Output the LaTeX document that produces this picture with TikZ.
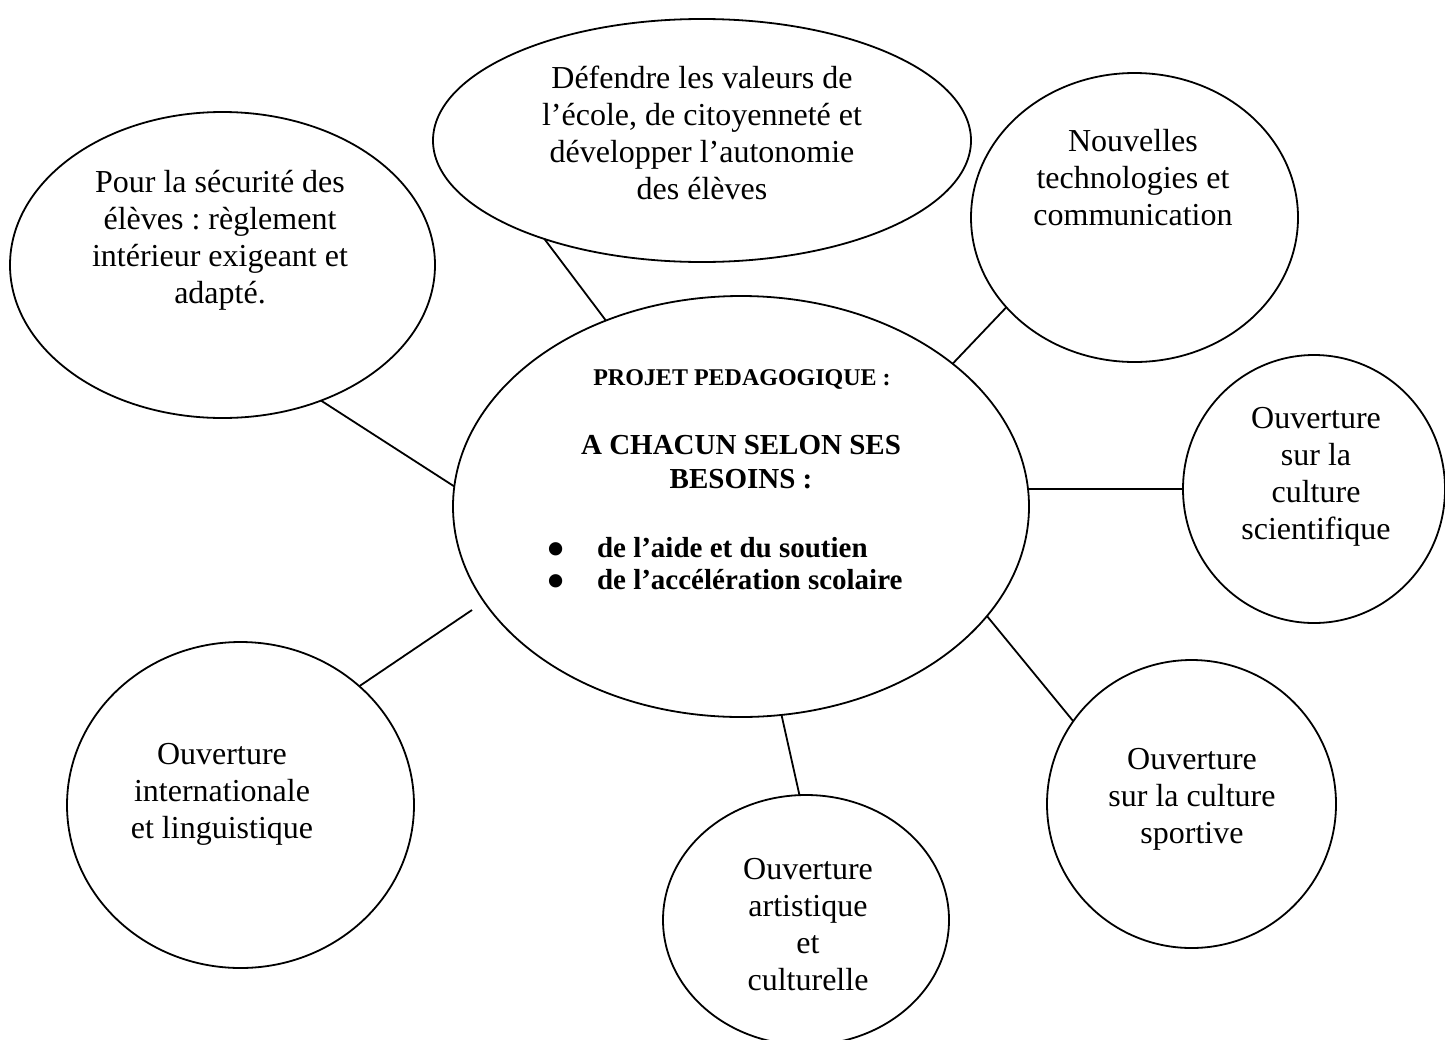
\documentclass[tikz,border=0pt]{standalone}
\usepackage{fontspec}
\setmainfont{Liberation Serif}
\usetikzlibrary{shapes.geometric}
\frenchspacing
\begin{document}
\begin{tikzpicture}[x=1pt,y=-1pt,
  bub/.style={draw, ellipse, inner sep=0pt, outer sep=0pt, line width=1.8pt},
  link/.style={line width=1.8pt},
  lbl/.style={anchor=north, inner sep=0pt, outer sep=0pt, align=center, font=\fontsize{32}{36.8}\selectfont\frenchspacing},
  ctitle/.style={anchor=base, inner sep=0pt, outer sep=0pt, font=\fontsize{24}{27.6}\selectfont\bfseries},
  chead/.style={anchor=north, inner sep=0pt, outer sep=0pt, align=center, font=\fontsize{29}{33.4}\selectfont\bfseries},
  clist/.style={anchor=north west, inner sep=0pt, outer sep=0pt, align=left, font=\fontsize{29}{32}\selectfont\bfseries}]
\path[use as bounding box] (0,0) rectangle (1445,1039);
\clip (0,0) rectangle (1445,1039);

% bubbles
\node[bub, minimum width=576pt, minimum height=421pt] (c)   at (741,506.5) {};
\node[bub, minimum width=425pt, minimum height=306pt] (tl)  at (222.5,265) {};
\node[bub, minimum width=538pt, minimum height=243pt] (top) at (702,140.5) {};
\node[bub, minimum width=327pt, minimum height=289pt] (nt)  at (1134.5,217.5) {};
\node[bub, minimum width=262pt, minimum height=268pt] (sc)  at (1314,489) {};
\node[bub, minimum width=289pt, minimum height=288pt] (sp)  at (1191.5,804) {};
\node[bub, minimum width=286pt, minimum height=250pt] (ar)  at (806,920) {};
\node[bub, minimum width=347pt, minimum height=326pt] (in)  at (240.5,805) {};
\coordinate (inend) at (472,610);

% connectors
\draw[link] (tl.-54) -- (c.176.1);
\draw[link] (top.-148.6) -- (c.126.2);
\draw[link] (nt.-145.8) -- (c.34.8);
\draw[link] (sc.west) -- (c.3.5 |- sc.west);
\draw[link] (sp.145.2) -- (c.-24.9);
\draw[link] (ar.93.7) -- (c.-79.5);
\draw[link] (in.45.7) -- (inend);

% texts
\node[lbl] (tlt)  at (220,167.2)   {\strut Pour la sécurité des\\élèves : règlement\\intérieur exigeant et\\adapté.};
\node[lbl] (topt) at (702,63.2)    {\strut Défendre les valeurs de\\l’école, de citoyenneté et\\développer l’autonomie\\des élèves};
\node[lbl] (ntt)  at (1133,126.2)  {\strut Nouvelles\\technologies et\\communication};
\node[lbl] (sct)  at (1316,403.2)  {\strut Ouverture\\sur la\\culture\\scientifique};
\node[lbl] (spt)  at (1192,744.2)  {\strut Ouverture\\sur la culture\\sportive};
\node[lbl] (art)  at (808,854.2)   {\strut Ouverture\\artistique\\et\\culturelle};
\node[lbl] (int)  at (222,739.2)   {\strut Ouverture\\internationale\\et linguistique};

\node[ctitle] (ptitle) at (742,385) {PROJET PEDAGOGIQUE :};
\node[chead] (chacun) at (741,431.6) {\strut A CHACUN SELON SES\\BESOINS :};
\node[clist] (bul) at (547.5,534.6) {\strut\makebox[49.5pt][l]{\raisebox{-8.4pt}{\fontsize{49}{32}\selectfont\textbullet}}de l’aide et du soutien\\\makebox[49.5pt][l]{\raisebox{-8.4pt}{\fontsize{49}{32}\selectfont\textbullet}}de l’accélération scolaire};
\end{tikzpicture}
\end{document}
